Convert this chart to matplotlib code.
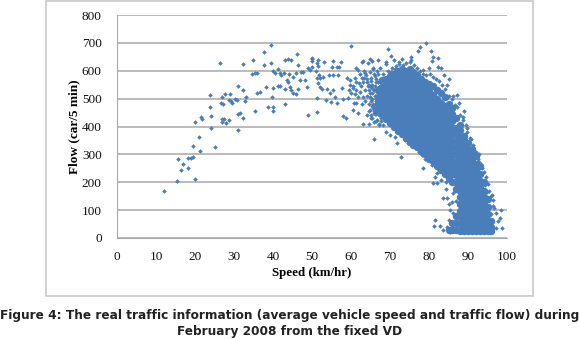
import matplotlib
matplotlib.use('Agg')
import matplotlib.pyplot as plt
from matplotlib.patches import Rectangle

# scattered points
speed_sparse = [12.1,15.5,15.7,16.4,16.9,18.1,18.3,18.9,19.4,19.4,19.9,20.0,21.1,21.2,21.5,21.8,23.8,23.8,24.0,24.1,25.2,26.3,26.8,26.8,27.4,27.9,28.6,26.6,27.0,27.1,27.6,29.1,28.6,29.2,29.6,30.3,30.8,31.0,31.0,31.6,31.0,32.3,32.4,32.7,33.1,32.3,34.6,35.4,34.9,35.4,35.8,36.6,35.8,37.6,37.6,38.1,38.6,39.4,39.4,39.9,39.8,40.0,40.0,40.1,40.5,41.2,41.4,41.8,41.9,42.1,43.0,43.0,43.0,43.9,44.6,42.9,43.5,44.0,46.1,46.4,45.8,45.0,43.8,44.4,44.6,45.1,45.8,46.3,47.0,47.6,48.2,48.7,48.9,49.5,50.0,50.1,51.0,51.2,51.4,51.5,51.5,51.2,51.9]
flow_sparse = [169,203,282,244,267,252,287,288,289,331,415,212,362,313,434,428,513,469,439,393,328,627,416,426,427,413,425,483,507,480,517,517,494,490,483,498,494,545,446,448,387,531,429,492,505,623,588,591,639,457,521,525,593,666,621,541,471,692,628,539,505,469,454,598,591,606,545,545,591,584,639,535,480,641,639,591,567,588,660,621,591,576,559,543,531,519,517,533,567,597,567,543,440,603,641,615,600,453,501,639,618,573,585]

speed_mid = [47.3,49.0,49.9,49.9,51.3,53.0,55.5,57.4,55.0,56.5,57.0,54.4,55.3,56.7,52.0,52.7,51.6,52.0,52.5,53.9,54.6,55.5,55.9,53.7,54.8,56.5,58.0,59.3,58.0,58.7,60.4,61.9,59.9,58.9,59.7,61.0,57.8,60.6,61.4,59.6,60.8,61.4,62.7,63.1,64.6,65.9,67.2,68.3,65.3,66.4,64.0,62.7,63.1,64.9,65.5,66.8,61.3,61.9,63.6,64.4,65.7,69.0,69.0,69.4,70.2,71.1,72.2,73.1,75.5,75.5,77.1,77.8,79.3,80.5,81.1,80.7,82.2,82.4,83.0,78.5,80.1,83.8,85.0,84.5,86.2,87.3,87.7,89.0,88.8,89.7,90.8,91.1,92.8,92.8,93.5,94.5,94.4,96.1,96.5,96.7,98.5,98.2,98.8,97.2,96.2]
flow_mid = [597,609,645,635,627,631,635,633,615,615,612,585,585,585,573,576,555,541,533,533,519,531,507,495,489,483,497,501,438,429,459,450,688,573,567,573,537,537,531,531,483,483,481,410,410,356,405,405,429,421,441,630,635,642,635,637,609,603,591,627,609,633,623,677,654,639,633,641,648,639,671,685,700,672,651,635,645,612,611,603,609,585,570,549,509,513,483,457,435,393,354,322,303,271,250,220,190,154,136,106,99,71,35,35,29]

# lower edge of the cloud
speed_edge = [69.1,70.0,71.3,71.7,72.7,73.8,74.7,76.4,77.5,78.1,79.0,78.4,80.7,82.0,81.5,82.0,81.1,82.1,83.2,84.4,84.3,86.2,83.5,84.7,85.0,85.8,86.8,85.5,86.2,81.5,81.4,82.8,83.7,84.5,85.0,85.4]
flow_edge = [379,370,364,342,289,352,340,328,310,298,282,252,262,250,220,232,199,199,208,202,176,163,145,145,122,130,133,100,88,63,42,43,29,41,65,23]

# busy part left of the core, 60-68 km/hr
speed_busy = [62.2,62.8,63.3,63.9,64.2,64.8,65.2,65.7,66.1,66.6,67.0,62.5,63.1,63.7,64.3,64.9,65.4,66.0,66.5,67.1,63.0,63.6,64.1,64.7,65.3,65.8,66.4,66.9,64.6,65.1,65.6,66.2,66.8,67.3,62.0,61.2,60.5,59.8,60.1,61.0,61.7,62.4,
              63.4,64.0,64.6,65.2,65.8,66.4,67.0,67.5,64.9,65.5,66.1,66.7,67.3,65.1,65.7,66.3,66.9,67.5,64.5,65.0,65.6,66.2,66.8,67.4,64.8,65.4,66.0,66.6,67.2,65.2,65.8,66.4,67.0,67.6,66.0,66.6,67.2,67.8]
flow_busy = [590,575,600,585,560,595,575,605,580,600,590,545,560,530,545,520,550,530,560,540,505,490,510,480,500,470,490,465,455,440,465,445,470,440,555,560,545,550,520,515,505,525,
             575,570,550,565,590,570,560,610,505,520,510,525,515,490,480,500,485,505,530,540,535,545,530,560,460,475,455,480,465,430,450,445,460,430,415,425,410,420]

# fuzz along the top and the right side of the core
speed_fuzz = [68.2,69.5,70.6,71.6,72.4,73.4,74.2,75.0,76.2,77.0,77.6,78.4,79.2,80.2,81.0,81.8,82.6,83.4,84.2,85.2,85.8,86.6,87.2,88.0,88.6,89.4,89.8,90.4,91.4,92.0,92.6,93.4,94.2,95.0,95.4,96.0,96.4,97.2,97.6,95.8,94.8,68.6,70.2,71.2]
flow_fuzz = [590,600,610,618,625,622,628,630,622,610,600,590,585,590,578,570,565,548,535,510,500,478,470,440,425,405,380,360,335,310,285,260,235,195,170,150,115,90,60,85,165,575,595,605]

# the solid core, one list of flows per speed column
core_67 = [458,482,506,530]
core_68 = [445,470,494,518,542,566]
core_69 = [428,452,476,500,524,548,572]
core_70 = [412,436,460,484,508,532,556,580]
core_71 = [398,422,446,470,494,518,542,566,590]
core_72 = [385,410,434,458,482,506,530,554,578,600]
core_73 = [372,396,420,444,468,492,516,540,564,588,605]
core_74 = [360,384,408,432,456,480,504,528,552,576,600]
core_75 = [345,370,394,418,442,466,490,514,538,562,586,605]
core_76 = [335,358,382,406,430,454,478,502,526,550,574,596]
core_77 = [325,348,372,396,420,444,468,492,516,540,564,585]
core_78 = [312,336,360,384,408,432,456,480,504,528,552,572]
core_79 = [300,324,348,372,396,420,444,468,492,516,540,560]
core_80 = [285,310,334,358,382,406,430,454,478,502,526,552]
core_81 = [275,298,322,346,370,394,418,442,466,490,514,545]
core_82 = [258,284,308,332,356,380,404,428,452,476,500,530]
core_83 = [245,270,294,318,342,366,390,414,438,462,486,520]
core_84 = [230,256,280,304,328,352,376,400,424,448,472,505]
core_85 = [30,215,242,266,290,314,338,362,386,410,434,458,480]
core_86 = [30,55,200,228,252,276,300,324,348,372,396,420,444,465]
core_87 = [30,55,78,175,202,226,250,274,298,322,346,370,394,430]
core_88 = [25,50,74,98,122,146,170,194,218,242,266,290,314,338,362,386,405]
core_89 = [25,38,62,86,110,134,158,182,206,230,254,278,302,326,350,365]
core_90 = [25,50,74,98,122,146,170,194,218,242,266,290,314,340]
core_91 = [25,38,62,86,110,134,158,182,206,230,254,278,302,320]
core_92 = [25,50,74,98,122,146,170,194,218,242,266,295]
core_93 = [25,38,62,86,110,134,158,182,206,230,260]
core_94 = [25,50,74,98,122,146,170,200]
core_95 = [25,38,62,86,110,140]
core_96 = [25,40,60]

core_speeds = list(range(67, 97))
core_flows = [core_67,core_68,core_69,core_70,core_71,core_72,core_73,core_74,core_75,core_76,
              core_77,core_78,core_79,core_80,core_81,core_82,core_83,core_84,core_85,core_86,
              core_87,core_88,core_89,core_90,core_91,core_92,core_93,core_94,core_95,core_96]

x_ticks = [0,10,20,30,40,50,60,70,80,90,100]
y_ticks = [0,100,200,300,400,500,600,700,800]
caption_1 = 'Figure 4: The real traffic information (average vehicle speed and traffic flow) during'
caption_2 = 'February 2008 from the fixed VD'

blue = '#4a7ebb'
W, H = 580, 340

fig = plt.figure(figsize=(5.8, 3.4), dpi=100)
fig.patches.append(Rectangle((46/W, 1-296/H), 487/W, 295/H, transform=fig.transFigure,
                             fill=False, edgecolor='#c9c9c9', linewidth=1.2))

ax = fig.add_axes([117/W, 1-238/H, 390/W, 223/H])
ax.set_xlim(0, 100)
ax.set_ylim(0, 800)
ax.set_xticks(x_ticks)
ax.set_yticks(y_ticks)
ax.grid(axis='y', color='#a8a8a8', linewidth=1.1)
ax.set_axisbelow(True)
for side in ['top', 'right']:
    ax.spines[side].set_visible(False)
for side in ['left', 'bottom']:
    ax.spines[side].set_color('#a8a8a8')
ax.tick_params(length=0, labelsize=9.5, labelfontfamily='Liberation Serif', colors='#111111')
ax.tick_params(axis='x', pad=9)
ax.tick_params(axis='y', pad=11)

# core columns get a bigger marker so the cloud closes up
for sp, fl in zip(core_speeds, core_flows):
    ax.scatter([sp]*len(fl), fl, s=29, marker='o', color=blue, linewidths=0, zorder=3)
for xs, ys in [(speed_sparse, flow_sparse), (speed_mid, flow_mid), (speed_edge, flow_edge),
               (speed_busy, flow_busy), (speed_fuzz, flow_fuzz)]:
    ax.scatter(xs, ys, s=5.5, marker='D', color=blue, linewidths=0, zorder=3)

ax.set_xlabel('Speed (km/hr)', fontsize=9.3, fontweight='bold', family='Liberation Serif', labelpad=3)
ax.set_ylabel('Flow (car/5 min)', fontsize=9.5, fontweight='bold', family='Liberation Serif', labelpad=1)

fig.text(0.5, 1-316/H, caption_1, ha='center', va='center', fontsize=8.7, fontweight='bold', color='#222222')
fig.text(0.5, 1-331/H, caption_2, ha='center', va='center', fontsize=8.7, fontweight='bold', color='#222222')

fig.savefig('out.png', dpi=100)
